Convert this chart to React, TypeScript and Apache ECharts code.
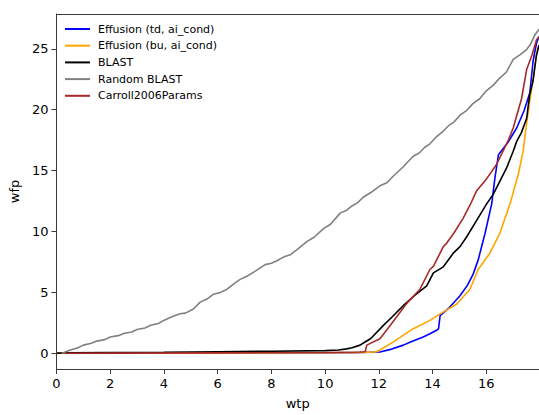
import React, { useEffect, useRef } from "react";
import * as echarts from "echarts";

const xTicks = [0, 2, 4, 6, 8, 10, 12, 14, 16];
const yTicks = [0, 5, 10, 15, 20, 25];

const seriesNames = [
  "Effusion (td, ai_cond)",
  "Effusion (bu, ai_cond)",
  "BLAST",
  "Random BLAST",
  "Carroll2006Params",
];
const seriesColors = ["#0000ff", "#ffa500", "#000000", "#808080", "#a52a2a"];

const tdData: number[][] = [
  [0, 0], [4, 0.01], [8, 0.02], [11, 0.05], [12.04, 0.1], [12.4, 0.3], [12.91, 0.67],
  [13.2, 0.95], [13.65, 1.34], [13.9, 1.6], [14.15, 1.89], [14.22, 2.0], [14.28, 3.1],
  [14.6, 3.7], [15.02, 4.72], [15.3, 5.6], [15.51, 6.5], [15.7, 7.69], [15.95, 9.84],
  [16.2, 12.27], [16.32, 14.4], [16.45, 16.3], [16.8, 17.3], [17.13, 18.5], [17.4, 19.9],
  [17.62, 21.4], [17.74, 24.0], [17.87, 25.5], [17.96, 26.0],
];

const buData: number[][] = [
  [0, 0], [4, 0.01], [8, 0.02], [11, 0.05], [11.9, 0.12], [12.04, 0.27], [12.54, 0.94],
  [13.28, 2.02], [13.9, 2.7], [14.28, 3.24], [14.9, 4.05], [15.39, 5.26], [15.7, 6.9],
  [16.13, 8.22], [16.5, 9.84], [16.88, 12.27], [17.19, 14.7], [17.37, 16.6], [17.5, 18.9],
  [17.61, 20.6], [17.74, 22.5], [17.87, 24.7], [17.96, 25.3],
];

const blastData: number[][] = [
  [0, 0], [0.3, 0.04], [2, 0.06], [4, 0.09], [6, 0.13], [8, 0.17], [10, 0.22], [10.5, 0.27],
  [10.8, 0.36], [11.0, 0.45], [11.3, 0.67], [11.5, 0.95], [11.7, 1.21], [12.17, 2.29],
  [12.5, 3.0], [12.91, 3.91], [13.3, 4.7], [13.78, 5.53], [14.03, 6.6], [14.4, 7.1],
  [14.77, 8.22], [15.02, 8.76], [15.27, 9.57], [15.64, 10.92], [16.01, 12.27], [16.26, 13.07],
  [16.51, 14.16], [16.75, 15.2], [17.0, 16.59], [17.13, 17.4], [17.3, 18.1], [17.5, 19.28],
  [17.61, 21.2], [17.74, 22.4], [17.86, 24.4], [17.96, 25.3],
];

const randomData: number[][] = [
  [0.2, 0], [0.5, 0.25], [0.8, 0.45], [1, 0.67], [1.3, 0.82], [1.5, 1.0], [1.8, 1.12],
  [2, 1.34], [2.3, 1.45], [2.5, 1.62], [2.8, 1.75], [3, 1.95], [3.3, 2.08], [3.5, 2.3],
  [3.8, 2.45], [3.99, 2.7], [4.3, 3.0], [4.6, 3.25], [4.8, 3.3], [5.1, 3.64], [5.35, 4.2],
  [5.6, 4.45], [5.85, 4.85], [6.1, 5.0], [6.35, 5.26], [6.6, 5.7], [6.84, 6.07], [7.09, 6.33],
  [7.4, 6.75], [7.77, 7.28], [8.0, 7.4], [8.2, 7.6], [8.45, 7.9], [8.7, 8.09], [9.0, 8.6],
  [9.32, 9.17], [9.6, 9.55], [9.94, 10.24], [10.2, 10.6], [10.56, 11.51], [10.8, 11.75],
  [11.0, 12.1], [11.2, 12.35], [11.42, 12.81], [11.7, 13.2], [12.04, 13.75], [12.3, 14.0],
  [12.54, 14.56], [12.9, 15.3], [13.28, 16.18], [13.5, 16.45], [13.7, 16.9], [13.9, 17.2],
  [14.15, 17.8], [14.4, 18.25], [14.6, 18.7], [14.8, 19.0], [15.02, 19.55], [15.25, 19.9],
  [15.5, 20.5], [15.75, 20.9], [16.01, 21.57], [16.25, 22.0], [16.5, 22.6], [16.75, 23.1],
  [17.0, 24.13], [17.25, 24.5], [17.5, 24.94], [17.65, 25.4], [17.81, 26.16], [17.96, 26.6],
];

const carrollData: number[][] = [
  [0.35, 0], [2, 0.01], [6, 0.03], [10, 0.06], [11.3, 0.1], [11.49, 0.13], [11.55, 0.67],
  [12.04, 1.2], [12.42, 2.29], [12.7, 3.1], [13.04, 4.1], [13.53, 5.26], [13.9, 6.88],
  [14.03, 7.14], [14.4, 8.76], [14.52, 9.03], [14.8, 9.9], [15.14, 11.1], [15.4, 12.2],
  [15.64, 13.35], [16.0, 14.3], [16.38, 15.5], [16.82, 17.5], [17.0, 18.5], [17.31, 20.9],
  [17.5, 23.3], [17.7, 24.5], [17.87, 25.75], [17.96, 26.0],
];

const allData = [tdData, buData, blastData, randomData, carrollData];

const X_MIN = 0;
const X_MAX = 17.96;
const Y_MIN = -1.29;
const Y_MAX = 27.86;

const FONT = "DejaVu Sans";

export default function App() {
  const ref = useRef<HTMLDivElement>(null);

  useEffect(() => {
    if (!ref.current) return;
    const chart = echarts.init(ref.current, undefined, { renderer: "svg" });
    const axisLineStyle = { color: "#3a3a3a", width: 1 };
    chart.setOption({
      animation: false,
      backgroundColor: "#ffffff",
      textStyle: { fontFamily: FONT },
      grid: { left: 56, top: 14, width: 483, height: 360, containLabel: false },
      legend: {
        show: true,
        orient: "vertical",
        left: 65,
        top: 23,
        padding: 0,
        icon: "rect",
        itemWidth: 25,
        itemHeight: 2,
        itemGap: 4.7,
        textStyle: {
          fontFamily: FONT,
          fontSize: 11,
          color: "#000",
          lineHeight: 12,
          padding: [0, 0, 0, 3],
        },
        data: seriesNames,
      },
      xAxis: [
        {
          type: "value",
          min: X_MIN,
          max: X_MAX,
          name: "wtp",
          nameLocation: "middle",
          nameGap: 28,
          nameTextStyle: { fontFamily: FONT, fontSize: 13, color: "#000" },
          axisLine: { show: true, onZero: false, lineStyle: axisLineStyle },
          axisTick: { show: true, inside: false, length: 5, lineStyle: axisLineStyle, customValues: xTicks },
          axisLabel: {
            show: true,
            margin: 8,
            fontFamily: FONT,
            fontSize: 13,
            color: "#000",
            customValues: xTicks,
          },
          splitLine: { show: false },
        },
        {
          type: "value",
          position: "top",
          min: X_MIN,
          max: X_MAX,
          axisLine: { show: true, onZero: false, lineStyle: axisLineStyle },
          axisTick: { show: false },
          axisLabel: { show: false },
          splitLine: { show: false },
        },
      ],
      yAxis: {
        type: "value",
        min: Y_MIN,
        max: Y_MAX,
        name: "wfp",
        nameLocation: "middle",
        nameGap: 28,
        nameTextStyle: { fontFamily: FONT, fontSize: 13, color: "#000" },
        axisLine: { show: true, onZero: false, lineStyle: axisLineStyle },
        axisTick: { show: true, inside: false, length: 5, lineStyle: axisLineStyle, customValues: yTicks },
        axisLabel: {
          show: true,
          margin: 8,
          fontFamily: FONT,
          fontSize: 13,
          color: "#000",
          customValues: yTicks,
        },
        splitLine: { show: false },
      },
      series: seriesNames.map((name, i) => ({
        name,
        type: "line",
        xAxisIndex: 0,
        data: allData[i],
        showSymbol: false,
        symbol: "none",
        color: seriesColors[i],
        lineStyle: { color: seriesColors[i], width: 1.6 },
        itemStyle: { color: seriesColors[i] },
        z: 2 + i,
        silent: true,
      })),
    });
    return () => chart.dispose();
  }, []);

  return (
    <div
      ref={ref}
      style={{ position: "absolute", left: 0, top: 0, width: 539, height: 415, background: "#fff" }}
    />
  );
}
